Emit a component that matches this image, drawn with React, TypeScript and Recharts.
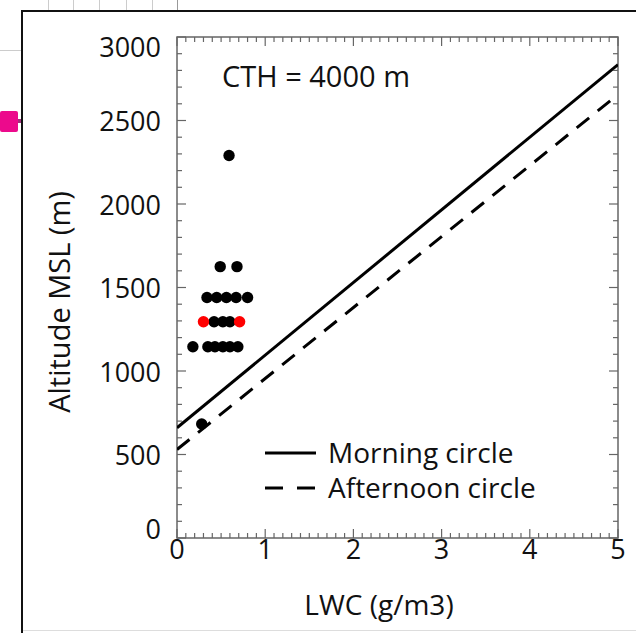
import React from 'react';
import { ComposedChart, XAxis, YAxis, Scatter, Line, ReferenceArea } from 'recharts';

const FONT = '"Open Sans", "Noto Sans", sans-serif';

// Axis ticks
const xMajorTicks = [0, 1, 2, 3, 4, 5];
const yMajorTicks = [0, 500, 1000, 1500, 2000, 2500, 3000];
const xMinorCount = 50; // 0.1 steps over 0..5
const yMinorCount = 30; // 100 m steps over 0..3000

// Observations (black)
const blackLWC = [0.59, 0.49, 0.68, 0.34, 0.45, 0.56, 0.67, 0.80, 0.42, 0.52, 0.60, 0.18, 0.35, 0.43, 0.52, 0.60, 0.69, 0.28];
const blackAlt = [2290, 1625, 1625, 1440, 1440, 1440, 1440, 1440, 1295, 1295, 1295, 1145, 1145, 1145, 1145, 1145, 1145, 683];
// Observations (red)
const redLWC = [0.30, 0.71];
const redAlt = [1295, 1295];
// Adiabatic lines
const lineLWC = [0, 5];
const morningAlt = [660, 2835];
const afternoonAlt = [530, 2655];

const blackData = blackLWC.map((x, i) => ({ x, y: blackAlt[i] }));
const redData = redLWC.map((x, i) => ({ x, y: redAlt[i] }));
const morningData = lineLWC.map((x, i) => ({ x, y: morningAlt[i] }));
const afternoonData = lineLWC.map((x, i) => ({ x, y: afternoonAlt[i] }));

const xTicks = Array.from({ length: xMinorCount + 1 }, (_, i) => i / 10);
const yTicks = Array.from({ length: yMinorCount + 1 }, (_, i) => i * 100);

const W = 636;
const H = 633;
const PL = 177;
const PR = 618;
const PT = 37;
const PB = 538;
const YAXIS_W = 40;
const XAXIS_H = 30;
const TICK_COLOR = '#666';

const XTick = (props: any) => {
  const { x, payload } = props;
  const v = payload.value;
  const major = xMajorTicks.some((t) => Math.abs(t - v) < 1e-6);
  const len = major ? 9 : 5;
  return (
    <g>
      <line x1={x} y1={PB} x2={x} y2={PB - len} stroke={TICK_COLOR} strokeWidth={1.2} />
      <line x1={x} y1={PT} x2={x} y2={PT + len} stroke={TICK_COLOR} strokeWidth={1.2} />
      {major && (
        <text x={x} y={PB + 10} textAnchor="middle" dominantBaseline="central" fontFamily={FONT} fontSize={27} fill="#111">
          {v}
        </text>
      )}
    </g>
  );
};

const YTick = (props: any) => {
  const { y, payload } = props;
  const v = payload.value;
  const major = yMajorTicks.includes(v);
  const len = major ? 9 : 5;
  const shift = v === 0 ? -10 : v === 3000 ? 9 : 0;
  return (
    <g>
      <line x1={PL} y1={y} x2={PL + len} y2={y} stroke={TICK_COLOR} strokeWidth={1.2} />
      <line x1={PR - len} y1={y} x2={PR} y2={y} stroke={TICK_COLOR} strokeWidth={1.2} />
      {major && (
        <text x={PL - 16} y={y + shift} textAnchor="end" dominantBaseline="central" fontFamily={FONT} fontSize={27} fill="#111">
          {v}
        </text>
      )}
    </g>
  );
};

const Dot = (color: string) => (p: any) => <circle cx={p.cx} cy={p.cy} r={5.7} fill={color} />;

export default function App() {
  return (
    <div style={{ position: 'absolute', left: 0, top: 0, width: W, height: H, background: '#fff', overflow: 'hidden' }}>
      {/* screenshot frame artifacts */}
      <div style={{ position: 'absolute', left: 0, top: 50, width: 21, height: 1, background: '#ccc' }} />
      {[48, 73, 99, 126, 152].map((gx) => (
        <div key={gx} style={{ position: 'absolute', left: gx, top: 0, width: 1, height: 11, background: '#ccc' }} />
      ))}
      <div style={{ position: 'absolute', left: 177, top: 0, width: 1, height: 11, background: '#999' }} />
      <div style={{ position: 'absolute', left: 0, top: 111, width: 18, height: 21, background: '#ec0a8c', borderRadius: 2 }} />
      <div style={{ position: 'absolute', left: 18, top: 119, width: 4, height: 4, background: '#a0307c' }} />
      <div style={{ position: 'absolute', left: 21, top: 10, width: W - 21, height: H - 10, borderLeft: '2.5px solid #111', borderTop: '2.5px solid #111', boxSizing: 'border-box' }} />
      <div style={{ position: 'absolute', left: 23, top: 630, width: W - 23, height: 1, background: '#ddd' }} />

      <div style={{ position: 'absolute', left: 0, top: 0 }}>
        <ComposedChart width={W} height={H} margin={{ top: PT, right: W - PR, bottom: H - PB - XAXIS_H, left: PL - YAXIS_W }}>
          <XAxis
            type="number"
            dataKey="x"
            domain={[0, 5]}
            ticks={xTicks}
            interval={0}
            tick={XTick}
            tickLine={false}
            axisLine={false}
            height={XAXIS_H}
            allowDataOverflow
          />
          <YAxis
            type="number"
            dataKey="y"
            domain={[0, 3000]}
            ticks={yTicks}
            interval={0}
            tick={YTick}
            tickLine={false}
            axisLine={false}
            width={YAXIS_W}
            allowDataOverflow
          />
          <ReferenceArea x1={0} x2={5} y1={0} y2={3000} fill="none" stroke={TICK_COLOR} strokeWidth={1.5} />
          <Line data={morningData} dataKey="y" type="linear" stroke="#000" strokeWidth={3} dot={false} isAnimationActive={false} />
          <Line data={afternoonData} dataKey="y" type="linear" stroke="#000" strokeWidth={3} strokeDasharray="16 11" dot={false} isAnimationActive={false} />
          <Scatter data={blackData} dataKey="y" shape={Dot('#000')} isAnimationActive={false} />
          <Scatter data={redData} dataKey="y" shape={Dot('#f00')} isAnimationActive={false} />
        </ComposedChart>
      </div>

      <svg width={W} height={H} style={{ position: 'absolute', left: 0, top: 0, pointerEvents: 'none' }}>
        <text x={222} y={75} dominantBaseline="central" fontFamily={FONT} fontSize={29} fill="#111">CTH = 4000 m</text>
        <line x1={265} y1={453} x2={316} y2={453} stroke="#000" strokeWidth={3} />
        <text x={328} y={452} dominantBaseline="central" fontFamily={FONT} fontSize={28} fill="#111">Morning circle</text>
        <line x1={265} y1={488} x2={283} y2={488} stroke="#000" strokeWidth={3} />
        <line x1={297} y1={488} x2={315} y2={488} stroke="#000" strokeWidth={3} />
        <text x={328} y={487} dominantBaseline="central" fontFamily={FONT} fontSize={28} fill="#111">Afternoon circle</text>
        <text x={379} y={604} textAnchor="middle" dominantBaseline="central" fontFamily={FONT} fontSize={28} fill="#111">LWC (g/m3)</text>
        <text x={58} y={302} textAnchor="middle" dominantBaseline="central" fontFamily={FONT} fontSize={29} fill="#111" transform="rotate(-90 58 302)">Altitude MSL (m)</text>
      </svg>
    </div>
  );
}
